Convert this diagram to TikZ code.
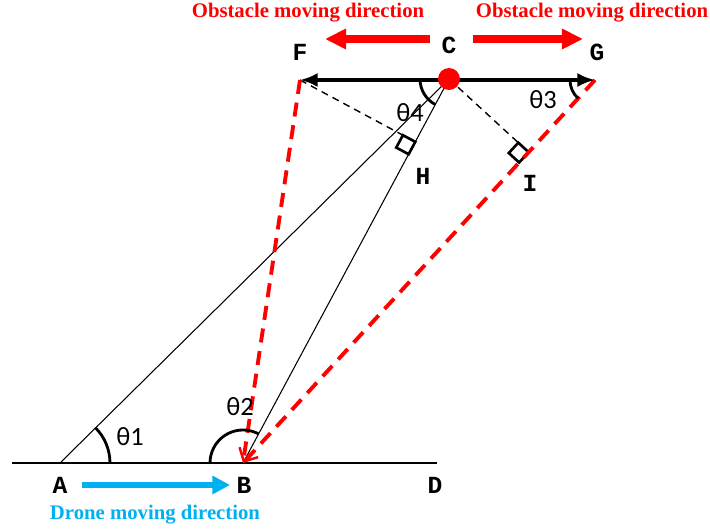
\documentclass[tikz,border=0pt]{standalone}
\usepackage{fontspec}
\setmainfont{Liberation Serif}
\newfontfamily\ptfont{Liberation Mono}
\newfontfamily\angfont{Carlito}
\usetikzlibrary{arrows.meta,calc,angles}
\definecolor{obsred}{RGB}{255,0,0}
\definecolor{droneblue}{RGB}{0,176,240}

\begin{document}
\begin{tikzpicture}[
      x=0.02cm, y=0.02cm,
      pt/.style={font=\ptfont\fontsize{14}{14}\selectfont\bfseries, inner sep=0pt},
      ang/.style={font=\angfont\fontsize{15}{15}\selectfont, inner sep=0pt},
      dirtext/.style={font=\fontsize{11.8}{12}\selectfont\bfseries, inner sep=0pt},
      ray/.style={line width=0.6pt},
      perp/.style={line width=0.8pt, dash pattern=on 4pt off 3pt},
      obspath/.style={draw=obsred, line width=2.2pt, dash pattern=on 8pt off 5pt},
      angarc/.style={draw, line width=1.6pt},
      rightmark/.style={line width=1.5pt},
      bigarr/.style={line width=4pt, -{Triangle[length=12pt, width=11pt]}}
    ]
    \useasboundingbox (0,0) rectangle (710,531);
    % points
    \coordinate (A) at (60,68);
    \coordinate (B) at (243,68);
    \coordinate (C) at (449,452);
    \coordinate (F) at (300,451);
    \coordinate (G) at (595,451);
    \coordinate (L) at (12,68);
    \coordinate (R) at (437,68);
    \coordinate (H) at ($(C)!(F)!(B)$);
    \coordinate (I) at ($(G)!(C)!(B)$);

    % ground line
    \draw[line width=1.6pt] (L) -- (R);
    \draw[ray] (A) -- (C);
    \draw[ray, -{Straight Barb[color=obsred, length=6pt, line width=1.4pt]}] (C) -- (B);

    % perpendiculars
    \draw[perp] (F) -- (H);
    \draw[perp] (C) -- (I);
    \coordinate (h1) at ($(H)!8pt!(F)$);
    \coordinate (h2) at ($(H)!8pt!(B)$);
    \draw[rightmark] (H) -- (h1) -- ($(h1)+(h2)-(H)$) -- (h2) -- cycle;
    \coordinate (i1) at ($(I)!8pt!(C)$);
    \coordinate (i2) at ($(I)!8pt!(B)$);
    \draw[rightmark] (I) -- (i1) -- ($(i1)+(i2)-(I)$) -- (i2) -- cycle;

    % obstacle paths
    \draw[obspath] (F) -- (B);
    \draw[obspath] (G) -- (B);
    \draw[line width=2.2pt, {Latex[length=10pt, width=8pt]}-{Latex[length=10pt, width=8pt]}] (F) -- (G);
    \node[circle, fill=obsred, minimum size=12.5pt, inner sep=0pt] (dot) at (C) {};

    % angles
    \pic[angarc, angle radius=1cm] {angle = B--A--C};
    \pic[angarc, angle radius=0.66cm] {angle = C--B--A};
    \pic[angarc, angle radius=0.5cm] {angle = F--G--B};
    \pic[angarc, angle radius=0.58cm] {angle = F--C--B};
    \node[ang] (t1) at (130,94) {θ1};
    \node[ang] (t2) at (240,124) {θ2};
    \node[ang] (t3) at (543,431) {θ3};
    \node[ang] (t4) at (410,418) {θ4};

    % labels
    \node[pt] (lA) at (60,46) {A};
    \node[pt] (lB) at (244,46) {B};
    \node[pt] (lD) at (435,46) {D};
    \node[pt] (lC) at (449,486) {C};
    \node[pt] (lF) at (300,479) {F};
    \node[pt] (lG) at (597,479) {G};
    \node[pt] (lH) at (423,355) {H};
    \node[pt] (lI) at (530,348) {I};

    % moving directions
    \coordinate (d1) at (82,46);
    \coordinate (d2) at (230,46);
    \draw[bigarr, droneblue, line width=3.4pt, -{Triangle[length=10pt, width=10pt]}] (d1) -- (d2);
    \node[dirtext, text=droneblue] (drone) at (155,16) {Drone moving direction};
    \coordinate (o1) at (430,492);
    \coordinate (o2) at (325,492);
    \coordinate (o3) at (473,492);
    \coordinate (o4) at (583,492);
    \draw[bigarr, obsred] (o1) -- (o2);
    \draw[bigarr, obsred] (o3) -- (o4);
    \node[dirtext, text=obsred] (obsL) at (308,518) {Obstacle moving direction};
    \node[dirtext, text=obsred] (obsR) at (592,518) {Obstacle moving direction};
  \end{tikzpicture}
\end{document}
